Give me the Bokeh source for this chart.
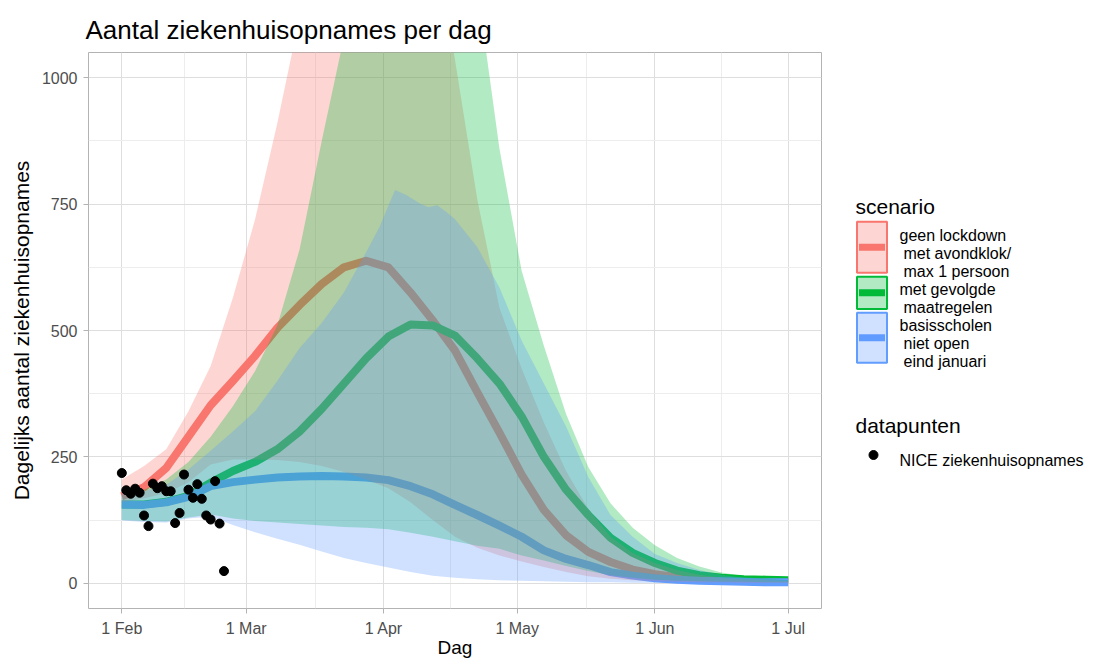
from bokeh.plotting import figure
from bokeh.models import Range1d, FixedTicker
from bokeh.layouts import row
from bokeh.core.properties import value
from bokeh.embed import file_html
from bokeh.resources import INLINE

FONT = "Liberation Sans"

# ---------------- data (days since 1 Feb) ----------------
DAYS = list(range(0, 151, 5))

RED_MEAN = [172, 190, 228, 290, 352, 400, 450, 505, 550, 592, 625, 638, 625, 575, 520,
            460, 378, 298, 215, 145, 95, 62, 42, 27, 18, 12, 8, 6, 5, 4, 3]
GREEN_MEAN = [156, 156, 161, 173, 199, 222, 240, 265, 300, 345, 395, 445, 488, 512, 510,
              490, 445, 395, 330, 250, 185, 135, 90, 60, 40, 25, 16, 11, 8, 7, 6]
BLUE_MEAN = [156, 155, 160, 171, 192, 200, 205, 209, 211, 212, 211, 209, 204, 192, 176,
             155, 135, 114, 92, 65, 48, 36, 22, 15, 10, 7, 5, 4, 3, 2, 2]

RED_UP = [205, 232, 265, 340, 430, 565, 720, 910, 1120, 1350, 1550, 1650, 1650, 1550, 1300,
          1035, 760, 545, 425, 318, 222, 147, 92, 60, 40, 26, 17, 11, 8, 6, 4]
RED_LO = [160, 168, 178, 200, 235, 245, 245, 244, 240, 232, 220, 205, 188, 160, 125,
          92, 70, 55, 43, 32, 22, 14, 9, 6, 4, 3, 2, 2, 1, 1, 1]
GREEN_UP = [175, 185, 205, 240, 290, 350, 420, 510, 660, 875, 1080, 1350, 1500, 1550, 1500,
            1350, 1180, 860, 618, 470, 335, 230, 158, 110, 75, 50, 33, 21, 14, 9, 6]
GREEN_LO = [125, 123, 122, 130, 136, 128, 123, 120, 117, 114, 111, 110, 107, 100, 92,
            83, 74, 68, 55, 45, 34, 24, 16, 11, 7, 5, 4, 3, 3, 2, 2]
BLUE_LO = [124, 121, 120, 128, 132, 115, 101, 88, 76, 63, 50, 40, 31, 22, 15,
           11, 8, 6, 5, 4, 3, 2, 2, 1, 1, 1, 1, 1, 1, 1, 1]
BLUE_UP_DAYS = [0, 5, 10, 15, 20, 25, 30, 35, 40, 45, 50, 55, 58, 61.5, 64, 67, 69, 71, 73, 75,
                80, 85, 90, 95, 100, 105, 110, 115, 120, 125, 130, 135, 140, 145, 150]
BLUE_UP = [180, 182, 195, 225, 262, 300, 340, 400, 465, 515, 575, 655, 705, 778, 768, 752, 744,
           748, 735, 720, 665, 585, 480, 395, 310, 210, 135, 92, 58, 40, 26, 17, 11, 8, 5]

NICE_DAYS = list(range(0, 24))
NICE_VALUES = [218, 184, 177, 187, 179, 134, 113, 197, 188, 192, 182, 182, 119, 139, 215,
               185, 169, 196, 167, 134, 126, 202, 118, 24]

XTICK_DAYS = [0, 28, 59, 89, 120, 150]
XTICK_LABELS = ["1 Feb", "1 Mar", "1 Apr", "1 May", "1 Jun", "1 Jul"]
XMINOR_DAYS = [14, 43.5, 74, 104.5, 135]
YTICKS = [0, 250, 500, 750, 1000]
YMINOR = [125, 375, 625, 875]

SCENARIOS = ["geen lockdown\nmet avondklok/\nmax 1 persoon",
             "met gevolgde\nmaatregelen",
             "basisscholen\nniet open\neind januari"]
COLORS = ["#F8766D", "#00BA38", "#619CFF"]

H = 660

# ---------------- main plot ----------------
p = figure(width=838, height=H, output_backend="svg", toolbar_location=None,
           x_range=Range1d(-7.5, 157.5), y_range=Range1d(-50, 1050),
           min_border_left=88, min_border_right=17, min_border_top=52, min_border_bottom=52,
           title="Aantal ziekenhuisopnames per dag")
p.frame_align = False
p.title.text_font = FONT
p.title.text_font_size = "26px"
p.title.text_font_style = "normal"
p.title.text_color = "black"
p.title.align = "left"
p.title.offset = -3
p.title.standoff = 15

p.background_fill_color = "white"
p.border_fill_color = "white"
p.outline_line_color = "#b3b3b3"
p.outline_line_width = 1

p.xaxis.ticker = FixedTicker(ticks=XTICK_DAYS, minor_ticks=XMINOR_DAYS)
p.xaxis.major_label_overrides = {d: l for d, l in zip(XTICK_DAYS, XTICK_LABELS)}
p.yaxis.ticker = FixedTicker(ticks=YTICKS, minor_ticks=YMINOR)
p.xaxis.axis_label = "Dag"
p.yaxis.axis_label = "Dagelijks aantal ziekenhuisopnames"
for ax in (p.xaxis[0], p.yaxis[0]):
    ax.axis_line_color = None
    ax.major_tick_line_color = "#b3b3b3"
    ax.major_tick_out = 5
    ax.major_tick_in = 0
    ax.minor_tick_line_color = None
    ax.major_label_text_font = FONT
    ax.major_label_text_font_size = "16px"
    ax.major_label_text_color = "#4d4d4d"
    ax.axis_label_text_font = FONT
    ax.axis_label_text_font_style = "normal"
    ax.axis_label_text_color = "black"
p.xaxis.axis_label_text_font_size = "19px"
p.yaxis.axis_label_text_font_size = "21px"
p.xaxis.major_label_standoff = 6
p.xaxis.axis_label_standoff = -3
p.yaxis.major_label_standoff = 6
p.yaxis.axis_label_standoff = 6

for g in (p.xgrid[0], p.ygrid[0]):
    g.grid_line_color = "#dedede"
    g.grid_line_width = 1
    g.minor_grid_line_color = "#ededed"
    g.minor_grid_line_width = 1
p.xgrid.ticker = p.xaxis.ticker
p.ygrid.ticker = p.yaxis.ticker

# lines first (ribbons are laid over them, as in the original)
for ys, c in zip([RED_MEAN, GREEN_MEAN, BLUE_MEAN], COLORS):
    p.line(DAYS, ys, line_color=c, line_width=8, line_join="round")

# ribbons
p.varea(x=DAYS, y1=RED_LO, y2=RED_UP, fill_color=COLORS[0], fill_alpha=0.3)
p.varea(x=DAYS, y1=GREEN_LO, y2=GREEN_UP, fill_color=COLORS[1], fill_alpha=0.3)
p.patch(BLUE_UP_DAYS + DAYS[::-1], BLUE_UP + BLUE_LO[::-1],
        fill_color=COLORS[2], fill_alpha=0.3, line_color=None)

# data points
p.scatter(NICE_DAYS, NICE_VALUES, size=9, color="black")

# ---------------- legend panel (coordinates = page pixels) ----------------
q = figure(width=253, height=H, output_backend="svg", toolbar_location=None,
           x_range=Range1d(838, 1091), y_range=Range1d(H, 0),
           x_axis_type=None, y_axis_type=None, title=None,
           min_border_left=0, min_border_right=0, min_border_top=0, min_border_bottom=0)
q.frame_align = False
q.outline_line_color = None
q.grid.visible = False
q.background_fill_color = "white"
q.border_fill_color = "white"

q.text(x=[855], y=[206], text=["scenario"], text_font=value(FONT), text_font_size="21px",
       text_baseline="alphabetic", text_color="black")

key_tops = [220.7, 275.7, 311.7]
key_heights = [52, 33.3, 51]
line_h = 18
for label, c, top, h in zip(SCENARIOS, COLORS, key_tops, key_heights):
    cy = top + h / 2
    q.segment(x0=[858.5], y0=[cy], x1=[884.5], y1=[cy], line_color=c, line_width=7)
    q.rect(x=[871.5], y=[cy], width=30, height=h - 1, fill_color=c, fill_alpha=0.3,
           line_color=c, line_width=2)
    lines = label.split("\n")
    n = len(lines)
    xs = [899 if i == 0 else 903 for i in range(n)]
    ys = [cy - (n - 1) / 2 * line_h + 6 + i * line_h for i in range(n)]
    q.text(x=xs, y=ys, text=lines, text_font=value(FONT), text_font_size="16px",
           text_baseline="alphabetic", text_color="black")

q.text(x=[855], y=[425], text=["datapunten"], text_font=value(FONT), text_font_size="21px",
       text_baseline="alphabetic", text_color="black")
q.scatter(x=[873], y=[454.5], size=9, color="black")
q.text(x=[899], y=[459.5], text=["NICE ziekenhuisopnames"], text_font=value(FONT),
       text_font_size="16px", text_baseline="alphabetic", text_color="black")

layout = row(p, q)
open("out.html", "w").write(file_html(layout, INLINE))
